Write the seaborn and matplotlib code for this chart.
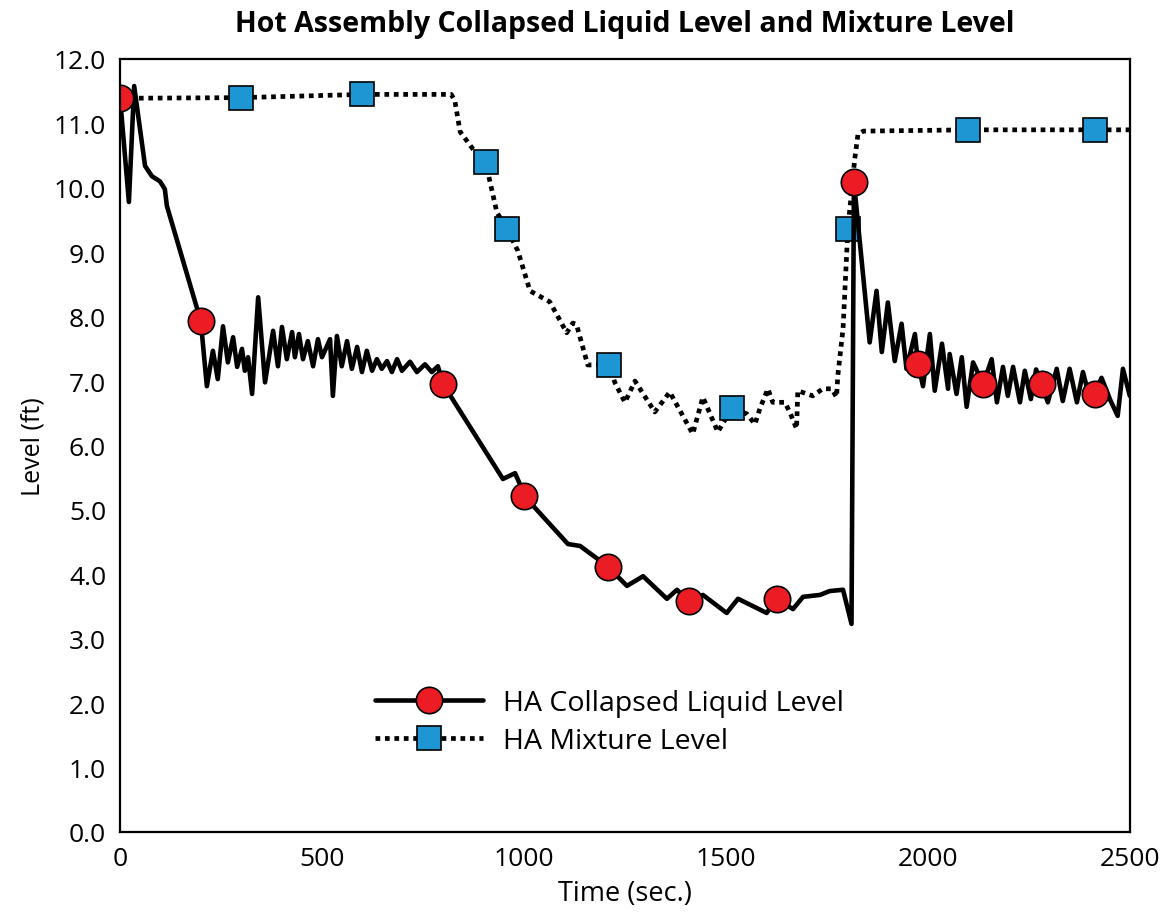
import numpy as np
import pandas as pd
import matplotlib.pyplot as plt
import seaborn as sns

# HA collapsed liquid level (time in sec, level in ft)
collapsed_time = [0, 22, 35, 62, 79, 99, 111, 116, 200, 215, 230, 242, 255, 267, 280, 290,
                  302, 309, 317, 327, 342, 359, 379, 391, 401, 413, 426, 433, 443, 453, 465,
                  478, 490, 500, 520, 527, 537, 549, 562, 574, 587, 599, 611, 624, 636, 648,
                  661, 673, 686, 698, 718, 735, 755, 772, 787, 800, 948, 978, 990, 1000,
                  1109, 1139, 1208, 1255, 1295, 1354, 1379, 1408, 1443, 1502, 1530, 1601,
                  1626, 1666, 1691, 1733, 1757, 1790, 1811, 1817, 1856, 1873, 1886, 1901,
                  1918, 1935, 1947, 1968, 1976, 1988, 2005, 2017, 2035, 2050, 2054, 2071,
                  2084, 2096, 2112, 2137, 2158, 2171, 2186, 2198, 2211, 2228, 2240, 2255,
                  2268, 2282, 2297, 2319, 2334, 2351, 2369, 2384, 2400, 2413, 2430, 2452,
                  2470, 2483, 2500]
collapsed_level = [11.40, 9.78, 11.58, 10.34, 10.18, 10.10, 9.98, 9.72, 7.93, 6.92, 7.47, 7.03,
                   7.85, 7.29, 7.68, 7.22, 7.50, 7.16, 7.37, 6.80, 8.30, 6.98, 7.78, 7.23,
                   7.84, 7.34, 7.76, 7.37, 7.73, 7.34, 7.62, 7.23, 7.65, 7.37, 7.65, 6.77,
                   7.70, 7.23, 7.62, 7.19, 7.53, 7.14, 7.47, 7.16, 7.34, 7.19, 7.31, 7.14,
                   7.34, 7.16, 7.30, 7.14, 7.26, 7.14, 7.23, 6.95, 5.48, 5.57, 5.40, 5.22,
                   4.47, 4.44, 4.12, 3.82, 3.97, 3.62, 3.76, 3.58, 3.68, 3.40, 3.62, 3.40,
                   3.62, 3.46, 3.65, 3.68, 3.74, 3.76, 3.23, 10.09, 7.60, 8.40, 7.45, 8.22,
                   7.31, 7.89, 7.19, 7.73, 7.27, 6.92, 7.73, 6.85, 7.58, 6.88, 7.42, 6.80,
                   7.37, 6.60, 7.29, 6.95, 7.34, 6.67, 7.22, 6.77, 7.22, 6.67, 7.16, 6.72,
                   7.18, 6.95, 6.67, 7.19, 6.69, 7.19, 6.67, 7.14, 6.75, 6.80, 7.05, 6.70,
                   6.46, 7.19, 6.77]
collapsed_marker_times = [0, 200, 800, 1000, 1208, 1408, 1626, 1817, 1976, 2137, 2282, 2413]

# HA mixture level
mixture_time = [0, 300, 600, 820, 829, 842, 874, 905, 933, 958, 985, 1015, 1064, 1106, 1121,
                1130, 1158, 1210, 1225, 1250, 1275, 1324, 1361, 1418, 1443, 1480, 1515, 1552,
                1572, 1584, 1604, 1616, 1646, 1658, 1675, 1678, 1715, 1740, 1762, 1774, 1777,
                1790, 1802, 1819, 1827, 1840, 2100, 2415, 2500]
mixture_level = [11.39, 11.40, 11.45, 11.45, 11.35, 10.87, 10.60, 10.40, 9.62, 9.36, 9.02,
                 8.40, 8.23, 7.75, 7.90, 7.88, 7.25, 7.25, 6.98, 6.67, 7.00, 6.52, 6.83, 6.18,
                 6.75, 6.21, 6.58, 6.49, 6.33, 6.57, 6.88, 6.67, 6.67, 6.52, 6.26, 6.85, 6.77,
                 6.88, 6.88, 6.75, 7.08, 7.81, 9.36, 10.45, 10.83, 10.88, 10.90, 10.90, 10.90]
mixture_marker_times = [300, 600, 905, 958, 1210, 1515, 1802, 2100, 2415]

x_ticks = [0, 500, 1000, 1500, 2000, 2500]
y_ticks = [0.0, 1.0, 2.0, 3.0, 4.0, 5.0, 6.0, 7.0, 8.0, 9.0, 10.0, 11.0, 12.0]

sns.set_theme(style='white')
plt.rcParams['font.family'] = ['Open Sans', 'DejaVu Sans']
plt.rcParams['text.color'] = 'black'
plt.rcParams['axes.labelcolor'] = 'black'

df_c = pd.DataFrame({'time': collapsed_time, 'level': collapsed_level})
df_m = pd.DataFrame({'time': mixture_time, 'level': mixture_level})
c_every = [collapsed_time.index(t) for t in collapsed_marker_times]
m_every = [mixture_time.index(t) for t in mixture_marker_times]

fig, ax = plt.subplots(figsize=(11.72, 9.2), dpi=100)
fig.subplots_adjust(left=0.1024, right=0.964, top=0.9348, bottom=0.0946)

sns.lineplot(data=df_m, x='time', y='level', ax=ax, estimator=None, sort=False,
             color='black', linewidth=3.4, linestyle=(0, (1, 1)), dash_capstyle='butt',
             marker='s', markersize=17, markerfacecolor='#1E96D4',
             markeredgecolor='black', markeredgewidth=1.2, markevery=m_every,
             label='HA Mixture Level')
sns.lineplot(data=df_c, x='time', y='level', ax=ax, estimator=None, sort=False,
             color='black', linewidth=3.3, marker='o', markersize=19,
             markerfacecolor='#EC1C24', markeredgecolor='black', markeredgewidth=1.2,
             markevery=c_every, label='HA Collapsed Liquid Level')

ax.set_xlim(0, 2500)
ax.set_ylim(0, 12)
ax.set_xticks(x_ticks)
ax.set_xticklabels([str(t) for t in x_ticks])
ax.set_yticks(y_ticks)
ax.set_yticklabels([f'{v:.1f}' for v in y_ticks])
ax.tick_params(length=0, labelsize=19, colors='black')
ax.tick_params(axis='x', pad=10)
ax.tick_params(axis='y', pad=10)
for s in ax.spines.values():
    s.set_color('black')
    s.set_linewidth(1.6)

ax.set_title('Hot Assembly Collapsed Liquid Level and Mixture Level',
             fontsize=20.5, fontweight='bold', pad=20)
ax.set_xlabel('Time (sec.)', fontsize=19.5, labelpad=6)
ax.set_ylabel('Level (ft)', fontsize=18, labelpad=6)

handles, labels = ax.get_legend_handles_labels()
order = [1, 0]
ax.legend([handles[i] for i in order], [labels[i] for i in order],
          loc='center', bbox_to_anchor=(0.485, 0.142), frameon=False, fontsize=20.5,
          handlelength=3.8, handletextpad=0.7, labelspacing=0.35)

plt.savefig('out.png', dpi=100)
plt.close()
